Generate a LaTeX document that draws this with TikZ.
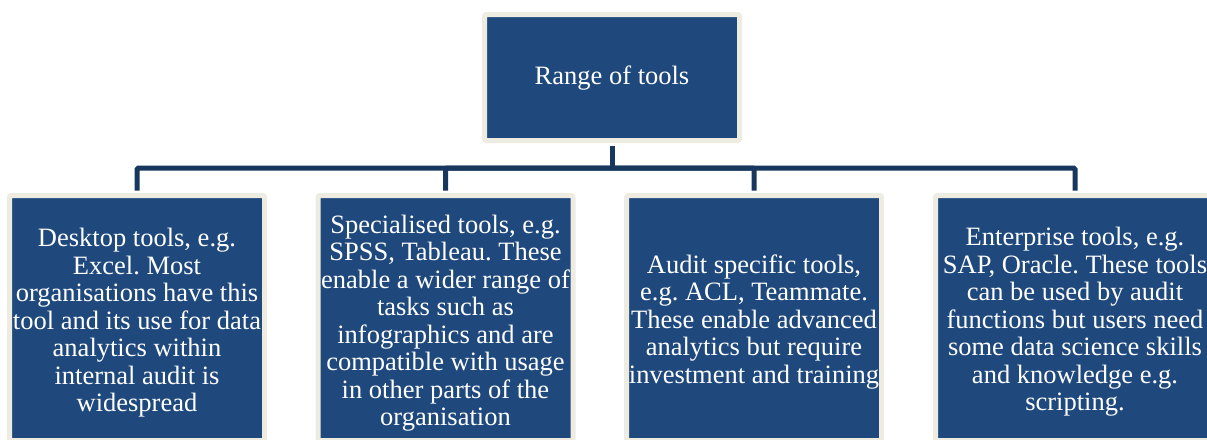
\documentclass[tikz,border=0pt]{standalone}
\usepackage{fontspec}
\setmainfont{Liberation Serif}
\usepackage{tikz}
\definecolor{boxblue}{HTML}{1F497D}
\definecolor{linkblue}{HTML}{17375E}
\definecolor{rim}{HTML}{EEECE1}
\frenchspacing
\tikzset{
  toolbox/.style={draw=rim, line width=5pt, fill=boxblue, rounded corners=2pt,
    minimum width=255pt, minimum height=245pt, inner sep=0pt},
  boxtext/.style={text=white, align=center, inner sep=0pt,
    font=\fontsize{26.5}{27.5}\selectfont},
  link/.style={linkblue, line width=5pt, rounded corners=1.5pt,
    shorten <=2.5pt, shorten >=2.5pt}
}

\begin{document}
\begin{tikzpicture}[x=1pt,y=-1pt]
\useasboundingbox (0,0) rectangle (1207,439);
\clip (0,0) rectangle (1207,439);
\node[toolbox, minimum height=126pt] (range) at (612,77.5) {};
\node[boxtext] (rangetext) at (612,78.5) {Range of tools};
\node[toolbox] (desk) at (137,318) {};
\node[toolbox] (spec) at (445.5,318) {};
\node[toolbox] (audit) at (754,318) {};
\node[toolbox, minimum width=279pt] (ent) at (1075,318) {};
% texts sit a little below the box centres
\node[boxtext] (desktext) at (137,323) {Desktop tools, e.g.\\Excel. Most\\organisations have this\\tool and its use for data\\analytics within\\internal audit is\\widespread};
\node[boxtext] (spectext) at (445.5,323) {Specialised tools, e.g.\\SPSS, Tableau. These\\enable a wider range of\\tasks such as\\infographics and are\\compatible with usage\\in other parts of the\\organisation};
\node[boxtext] (audittext) at (754,322) {Audit specific tools,\\e.g. ACL, Teammate.\\These enable advanced\\analytics but require\\investment and training};
\node[boxtext] (enttext) at (1075,322) {Enterprise tools, e.g.\\SAP, Oracle. These tools\\can be used by audit\\functions but users need\\some data science skills\\and knowledge e.g.\\scripting.};
% bus line under the top box
\coordinate (bus) at (612,168);
\draw[link, shorten >=0pt] (range.south) -- (bus);
\foreach \b in {desk,spec,audit,ent}
  \draw[link, shorten <=0pt] (bus) -| (\b.north);
\end{tikzpicture}
\end{document}
